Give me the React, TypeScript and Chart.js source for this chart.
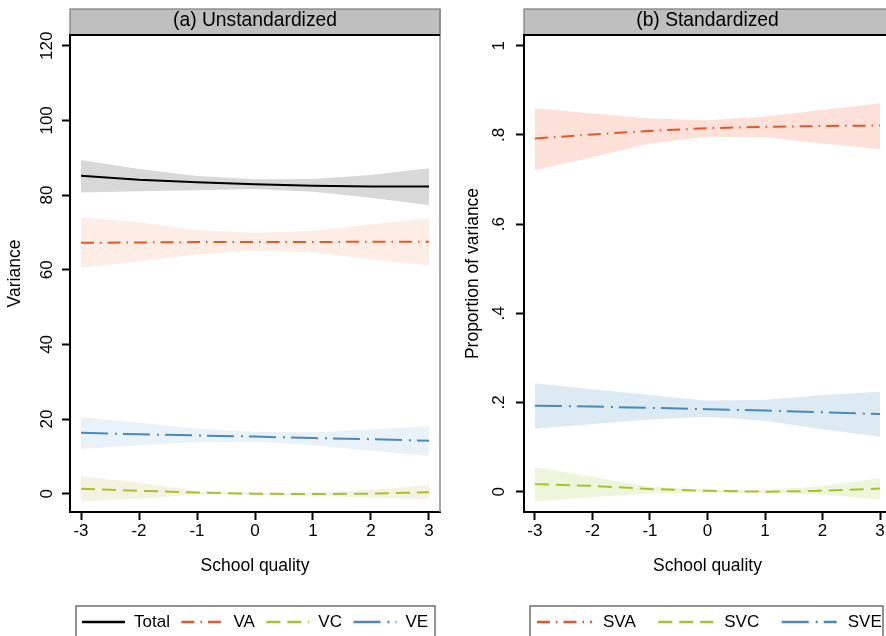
import React, { useEffect, useRef } from 'react';
import { Chart, registerables } from 'chart.js';

Chart.register(...registerables);

const FONT = '"Liberation Sans", Arial, Helvetica, sans-serif';

// School quality grid (x) and tick labels
const quality = [-3, -2, -1, 0, 1, 2, 3];
const xTickValues = [-3, -2, -1, 0, 1, 2, 3];
const xTickLabels = ['-3', '-2', '-1', '0', '1', '2', '3'];

// (a) Unstandardized variance components with confidence bands
const total = [85.2, 84.1, 83.4, 82.9, 82.5, 82.3, 82.3];
const totalHi = [89.4, 87.0, 85.1, 84.2, 84.3, 85.4, 87.2];
const totalLo = [80.7, 81.0, 81.3, 81.6, 80.9, 79.3, 77.3];
const va = [67.2, 67.3, 67.4, 67.4, 67.4, 67.5, 67.5];
const vaHi = [74.0, 72.7, 70.6, 69.9, 70.4, 72.2, 73.8];
const vaLo = [60.5, 62.2, 64.1, 65.1, 64.7, 62.8, 61.2];
const vc = [1.3, 0.8, 0.3, 0.0, -0.1, 0.0, 0.4];
const vcHi = [4.6, 3.0, 0.7, 0.3, 0.4, 1.0, 2.3];
const vcLo = [-2.1, -1.3, -0.3, -0.3, -0.6, -1.0, -1.5];
const ve = [16.3, 15.9, 15.6, 15.3, 14.9, 14.6, 14.2];
const veHi = [20.5, 19.0, 17.4, 16.6, 16.4, 17.2, 18.1];
const veLo = [12.0, 13.0, 13.8, 13.9, 13.0, 11.5, 10.1];
const leftYTicks = [0, 20, 40, 60, 80, 100, 120];
const leftYLabels = ['0', '20', '40', '60', '80', '100', '120'];

// (b) Standardized shares of variance with confidence bands
const sva = [0.792, 0.801, 0.809, 0.815, 0.818, 0.820, 0.821];
const svaHi = [0.860, 0.848, 0.837, 0.833, 0.841, 0.856, 0.871];
const svaLo = [0.721, 0.750, 0.781, 0.796, 0.795, 0.781, 0.768];
const svc = [0.017, 0.013, 0.006, 0.002, 0.0, 0.002, 0.007];
const svcHi = [0.056, 0.033, 0.011, 0.005, 0.004, 0.013, 0.030];
const svcLo = [-0.022, -0.012, -0.004, -0.002, -0.003, -0.007, -0.017];
const sve = [0.193, 0.191, 0.188, 0.185, 0.182, 0.178, 0.174];
const sveHi = [0.243, 0.230, 0.217, 0.204, 0.206, 0.217, 0.224];
const sveLo = [0.141, 0.152, 0.162, 0.168, 0.159, 0.140, 0.123];
const rightYTicks = [0, 0.2, 0.4, 0.6, 0.8, 1];
const rightYLabels = ['0', '.2', '.4', '.6', '.8', '1'];

const DASH_VA = [13, 6, 1.5, 6];
const DASH_VC = [14, 7];
const DASH_VE = [27, 7, 2, 6];

const pts = (arr: number[]) => quality.map((q, i) => ({ x: q, y: arr[i] }));

function lineSet(label: string, data: number[], color: string, dash: number[]) {
  return {
    label,
    inLegend: true,
    data: pts(data),
    borderColor: color,
    backgroundColor: color,
    borderWidth: 2,
    borderDash: dash,
    pointRadius: 0,
    tension: 0,
    fill: false,
    order: 1,
  };
}

function bandSets(hi: number[], lo: number[], color: string) {
  return [
    {
      label: '',
      data: pts(hi),
      borderColor: 'rgba(0,0,0,0)',
      backgroundColor: color,
      borderWidth: 0,
      pointRadius: 0,
      tension: 0,
      fill: '+1',
      order: 5,
    },
    {
      label: '',
      data: pts(lo),
      borderColor: 'rgba(0,0,0,0)',
      backgroundColor: color,
      borderWidth: 0,
      pointRadius: 0,
      tension: 0,
      fill: false,
      order: 5,
    },
  ];
}

// Grey strip title header, black rule beneath it and grey right edge
const panelFrame = {
  id: 'panelFrame',
  beforeDraw(chart: any, _a: any, opts: any) {
    const { ctx, chartArea: a } = chart;
    ctx.save();
    ctx.fillStyle = '#bfbfbf';
    ctx.fillRect(a.left, opts.headerTop, a.right - a.left, a.top - opts.headerTop);
    ctx.strokeStyle = '#7a7a7a';
    ctx.lineWidth = 1.2;
    ctx.strokeRect(a.left, opts.headerTop, a.right - a.left, a.top - opts.headerTop);
    ctx.restore();
  },
  afterDraw(chart: any, _a: any, opts: any) {
    const { ctx, chartArea: a } = chart;
    ctx.save();
    ctx.strokeStyle = '#888888';
    ctx.lineWidth = 1.5;
    ctx.beginPath();
    ctx.moveTo(a.right, opts.headerTop);
    ctx.lineTo(a.right, a.bottom);
    ctx.stroke();
    ctx.strokeStyle = '#000';
    ctx.lineWidth = 2;
    ctx.beginPath();
    ctx.moveTo(a.left - 1, a.top);
    ctx.lineTo(a.right, a.top);
    ctx.stroke();
    ctx.restore();
  },
};

// Boxed legend row below the plot
const panelLegend = {
  id: 'panelLegend',
  afterDraw(chart: any, _a: any, opts: any) {
    const { ctx } = chart;
    ctx.save();
    ctx.strokeStyle = '#6e6e6e';
    ctx.lineWidth = 1.5;
    ctx.strokeRect(opts.boxLeft, opts.boxTop, opts.boxRight - opts.boxLeft, 80);
    ctx.font = `17px ${FONT}`;
    ctx.textBaseline = 'middle';
    ctx.textAlign = 'left';
    let x = opts.startX;
    chart.data.datasets.forEach((ds: any) => {
      if (!ds.inLegend) return;
      ctx.strokeStyle = ds.borderColor;
      ctx.lineWidth = 2.4;
      ctx.setLineDash(ds.borderDash || []);
      ctx.beginPath();
      ctx.moveTo(x, opts.y);
      ctx.lineTo(x + opts.sample, opts.y);
      ctx.stroke();
      ctx.setLineDash([]);
      const tx = x + opts.sample + opts.gap;
      ctx.fillStyle = '#000';
      ctx.fillText(ds.label, tx, opts.y);
      x = tx + ctx.measureText(ds.label).width + opts.itemGap;
    });
    ctx.restore();
  },
};

type Panel = {
  width: number;
  title: string;
  yTitle: string;
  yTitlePad: number;
  yWidth: number;
  padRight: number;
  yMin: number;
  yMax: number;
  yTicks: number[];
  yLabels: string[];
  yTickPad: number;
  datasets: any[];
  legend: any;
};

function buildConfig(p: Panel): any {
  return {
    type: 'line',
    data: { datasets: p.datasets },
    plugins: [panelFrame, panelLegend],
    options: {
      animation: false,
      responsive: false,
      devicePixelRatio: 1,
      layout: { padding: { top: 0, left: 0, right: p.padRight, bottom: 44 } },
      plugins: {
        legend: { display: false },
        tooltip: { enabled: false },
        filler: { drawTime: 'beforeDatasetsDraw' },
        title: {
          display: true,
          text: p.title,
          fullSize: false,
          color: '#000',
          font: { family: FONT, size: 19.3, weight: 'normal', lineHeight: '20px' },
          padding: { top: 11, bottom: 4 },
        },
        panelFrame: { headerTop: 9 },
        panelLegend: p.legend,
      },
      scales: {
        x: {
          type: 'linear',
          min: -3.19,
          max: 3.19,
          afterFit: (s: any) => { s.height = 80; },
          afterBuildTicks: (s: any) => { s.ticks = xTickValues.map((v) => ({ value: v })); },
          grid: { display: true, drawOnChartArea: false, drawTicks: true, tickLength: 8, tickColor: '#000', tickWidth: 2 },
          border: { display: true, color: '#000', width: 2 },
          ticks: {
            autoSkip: false,
            maxRotation: 0,
            padding: 1,
            color: '#000',
            font: { family: FONT, size: 17 },
            callback: (_v: any, i: number) => xTickLabels[i],
          },
          title: {
            display: true,
            text: 'School quality',
            color: '#000',
            font: { family: FONT, size: 17.5 },
            padding: { top: 0, bottom: 15.5 },
          },
        },
        y: {
          type: 'linear',
          min: p.yMin,
          max: p.yMax,
          afterFit: (s: any) => { s.width = p.yWidth; },
          afterBuildTicks: (s: any) => { s.ticks = p.yTicks.map((v) => ({ value: v })); },
          grid: { display: true, drawOnChartArea: false, drawTicks: true, tickLength: 8, tickColor: '#000', tickWidth: 2 },
          border: { display: true, color: '#000', width: 2 },
          ticks: {
            autoSkip: false,
            minRotation: 90,
            maxRotation: 90,
            crossAlign: 'center',
            padding: p.yTickPad,
            color: '#000',
            font: { family: FONT, size: 17 },
            callback: (_v: any, i: number) => p.yLabels[i],
          },
          title: {
            display: true,
            text: p.yTitle,
            color: '#000',
            font: { family: FONT, size: 17.5 },
            padding: { top: p.yTitlePad, bottom: 0 },
          },
        },
      },
    },
  };
}

const unstandardized: Panel = {
  width: 446,
  title: '(a) Unstandardized',
  yTitle: 'Variance',
  yTitlePad: 5,
  yWidth: 70,
  padRight: 6,
  yMin: -4.9,
  yMax: 122.87,
  yTicks: leftYTicks,
  yLabels: leftYLabels,
  yTickPad: 0.5,
  datasets: [
    lineSet('Total', total, '#000000', []),
    lineSet('VA', va, '#e2582a', DASH_VA),
    lineSet('VC', vc, '#a9c22c', DASH_VC),
    lineSet('VE', ve, '#4a8ab4', DASH_VE),
    ...bandSets(totalHi, totalLo, '#d9d8d9'),
    ...bandSets(vaHi, vaLo, '#fdede4'),
    ...bandSets(vcHi, vcLo, '#f4f3e2'),
    ...bandSets(veHi, veLo, '#eaf2f9'),
  ],
  legend: { boxLeft: 76, boxRight: 435, boxTop: 606, startX: 82, y: 622, sample: 43, gap: 9, itemGap: 11.5 },
};

const standardized: Panel = {
  width: 454,
  title: '(b) Standardized',
  yTitle: 'Proportion of variance',
  yTitlePad: 16.5,
  yWidth: 78,
  padRight: 9,
  yMin: -0.0455,
  yMax: 1.024,
  yTicks: rightYTicks,
  yLabels: rightYLabels,
  yTickPad: 9.8,
  datasets: [
    lineSet('SVA', sva, '#e2582a', DASH_VA),
    lineSet('SVC', svc, '#a9c22c', DASH_VC),
    lineSet('SVE', sve, '#4a8ab4', DASH_VE),
    ...bandSets(svaHi, svaLo, '#fde0d8'),
    ...bandSets(svcHi, svcLo, '#eff5da'),
    ...bandSets(sveHi, sveLo, '#dcebf3'),
  ],
  legend: { boxLeft: 84, boxRight: 437, boxTop: 606, startX: 91, y: 622, sample: 55, gap: 11, itemGap: 22.5 },
};

function PanelChart({ panel, left }: { panel: Panel; left: number }) {
  const ref = useRef<HTMLCanvasElement | null>(null);
  useEffect(() => {
    if (!ref.current) return;
    const chart = new Chart(ref.current, buildConfig(panel));
    return () => chart.destroy();
  }, [panel]);
  return (
    <canvas
      ref={ref}
      width={panel.width}
      height={636}
      style={{ position: 'absolute', left, top: 0, width: panel.width, height: 636 }}
    />
  );
}

export default function App() {
  return (
    <div
      style={{
        position: 'fixed',
        left: 0,
        top: 0,
        width: 886,
        height: 636,
        overflow: 'hidden',
        background: '#ffffff',
      }}
    >
      <PanelChart panel={unstandardized} left={0} />
      <PanelChart panel={standardized} left={446} />
    </div>
  );
}
